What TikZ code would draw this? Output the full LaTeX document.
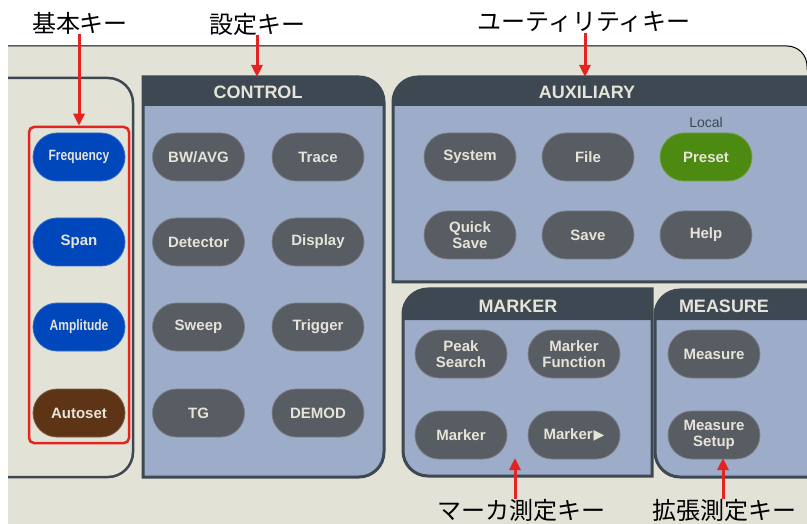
\documentclass[tikz,border=0pt]{standalone}
\usepackage{fontspec}
\usepackage{graphicx}
\setmainfont{Liberation Sans}
\newfontfamily\jpfont{Noto Sans CJK JP}
\newfontfamily\symfont{DejaVu Sans}
\usetikzlibrary{arrows.meta}

\definecolor{panelbeige}{HTML}{E3E2D7}
\definecolor{groupblue}{HTML}{9DADC9}
\definecolor{groupdark}{HTML}{3D4852}
\definecolor{keygray}{HTML}{585C63}
\definecolor{keyblue}{HTML}{0047BB}
\definecolor{keybrown}{HTML}{5E3417}
\definecolor{keygreen}{HTML}{4C8A12}
\definecolor{keytext}{HTML}{E6E4D8}
\definecolor{keyred}{HTML}{E32420}

\begin{document}
\begin{tikzpicture}
  [x=1pt,y=-1pt,
   softkey/.style={draw=#1!80!white,line width=0.8pt,fill=#1,rounded corners=24pt,
                   minimum width=92pt,minimum height=48pt,inner sep=0pt,align=center,
                   text=keytext,font=\fontsize{15}{16}\selectfont\bfseries},
   softkey/.default=keygray,
   grouptitle/.style={text=keytext,inner sep=0pt,font=\fontsize{18}{18}\selectfont\bfseries},
   callout/.style={inner sep=0pt,font=\jpfont\fontsize{24}{24}\selectfont},
   pointer/.style={draw=keyred,line width=3pt,-{Triangle[length=12pt,width=11pt]}},
   groupedge/.style={draw=groupdark,line width=3pt}]

  \useasboundingbox (0,0) rectangle (807,524);

  % front panel
  \fill[panelbeige] (8,46) -- (787,46) arc[start angle=-90,end angle=0,radius=20]
                    -- (807,530) -- (8,530) -- cycle;
  \draw[black,line width=1pt] (8,46) -- (787,46) arc[start angle=-90,end angle=0,radius=20]
                    -- (807,70);

  % basic keys group
  \draw[groupedge,line width=2.5pt] (8,78) -- (108,78) arc[start angle=-90,end angle=0,radius=25]
        -- (133,452) arc[start angle=0,end angle=90,radius=25] -- (8,477);

  % CONTROL
  \filldraw[fill=groupblue,groupedge] (143,77) -- (359,77) arc[start angle=-90,end angle=0,radius=25]
        -- (384,452) arc[start angle=0,end angle=90,radius=25] -- (143,477) -- cycle;
  \fill[groupdark] (143,77) -- (359,77) arc[start angle=-90,end angle=0,radius=25]
        -- (384,106) -- (143,106) -- cycle;

  % AUXILIARY
  \filldraw[fill=groupblue,groupedge] (393,282) -- (393,102) arc[start angle=180,end angle=270,radius=25]
        -- (812,77) -- (812,282) -- cycle;
  \fill[groupdark] (393,106) -- (393,102) arc[start angle=180,end angle=270,radius=25]
        -- (812,77) -- (812,106) -- cycle;

  % MARKER
  \filldraw[fill=groupblue,groupedge] (652,289) -- (428,289) arc[start angle=-90,end angle=-180,radius=25]
        -- (403,451) arc[start angle=180,end angle=90,radius=25] -- (652,476) -- cycle;
  \fill[groupdark] (652,289) -- (428,289) arc[start angle=-90,end angle=-180,radius=25]
        -- (403,320) -- (652,320) -- cycle;

  % MEASURE
  \filldraw[fill=groupblue,groupedge] (812,290) -- (680,290) arc[start angle=-90,end angle=-180,radius=25]
        -- (655,452) arc[start angle=180,end angle=90,radius=25] -- (812,477) -- cycle;
  \fill[groupdark] (812,290) -- (680,290) arc[start angle=-90,end angle=-180,radius=25]
        -- (655,320) -- (812,320) -- cycle;

  % group titles
  \node[grouptitle] (control)   at (258,92)  {CONTROL};
  \node[grouptitle] (auxiliary) at (587,92)  {AUXILIARY};
  \node[grouptitle] (marker)    at (518,306) {MARKER};
  \node[grouptitle] (measure)   at (724,306) {MEASURE};

  % basic keys
  \node[draw=keyred,line width=2.5pt,rounded corners=5pt,
        minimum width=100pt,minimum height=316pt] (basekeys) at (79,285) {};
  \node[softkey=keyblue]  (freq)  at (79,157) {\scalebox{0.8}[1]{Frequency}};
  \node[softkey=keyblue]  (span)  at (79,242) {Span};
  \node[softkey=keyblue]  (ampl)  at (79,327) {\scalebox{0.8}[1]{Amplitude}};
  \node[softkey=keybrown] (auto)  at (79,413) {Autoset};

  % control keys
  \node[softkey] (bwavg)    at (198.5,157) {BW/AVG};
  \node[softkey] (trace)    at (318,157)   {Trace};
  \node[softkey] (detector) at (198.5,242) {Detector};
  \node[softkey] (display)  at (318,242)   {Display};
  \node[softkey] (sweep)    at (198.5,327) {Sweep};
  \node[softkey] (trigger)  at (318,327)   {Trigger};
  \node[softkey] (tg)       at (198.5,413) {TG};
  \node[softkey] (demod)    at (318,413)   {DEMOD};

  % auxiliary keys
  \node[softkey]          (system)    at (470,157) {System};
  \node[softkey]          (file)      at (588,157) {File};
  \node[softkey=keygreen] (preset)    at (706,157) {Preset};
  \node[text=groupdark,inner sep=0pt,font=\fontsize{14}{14}\selectfont] (local) at (706,122) {Local};
  \node[softkey]          (quicksave) at (470,235) {Quick\\Save};
  \node[softkey]          (save)      at (588,235) {Save};
  \node[softkey]          (help)      at (706,235) {Help};

  % marker keys
  \node[softkey] (peak)       at (461,354) {Peak\\Search};
  \node[softkey] (markerfunc) at (574,354) {Marker\\Function};
  \node[softkey] (markerkey)  at (461,435) {Marker};
  \node[softkey] (markernext) at (574,435) {Marker\kern1pt{\symfont\fontsize{14}{14}\selectfont ▶}};

  % measure keys
  \node[softkey] (meas)      at (714,354) {Measure};
  \node[softkey] (meassetup) at (714,435) {Measure\\Setup};

  % callouts
  \node[callout] (basiclabel)   at (80,23)   {基本キー};
  \node[callout] (settinglabel) at (257,24)  {設定キー};
  \node[callout] (utilitylabel) at (584,22)  {ユーティリティキー};
  \node[callout] (markerlabel)  at (521,510) {マーカ測定キー};
  \node[callout] (extlabel)     at (724,510) {拡張測定キー};

  \coordinate (controltop) at (257,77);
  \coordinate (auxtop)     at (585,77);
  \coordinate (markertip)  at (515,458);
  \coordinate (measuretip) at (723,458);

  \draw[pointer] (basiclabel.south -| basekeys.north) -- (basekeys.north);
  \draw[pointer] (settinglabel.south -| controltop) -- (controltop);
  \draw[pointer] (utilitylabel.south -| auxtop) -- (auxtop);
  \draw[pointer] (markerlabel.north -| markertip) -- (markertip);
  \draw[pointer] (extlabel.north -| measuretip) -- (measuretip);
\end{tikzpicture}
\end{document}
